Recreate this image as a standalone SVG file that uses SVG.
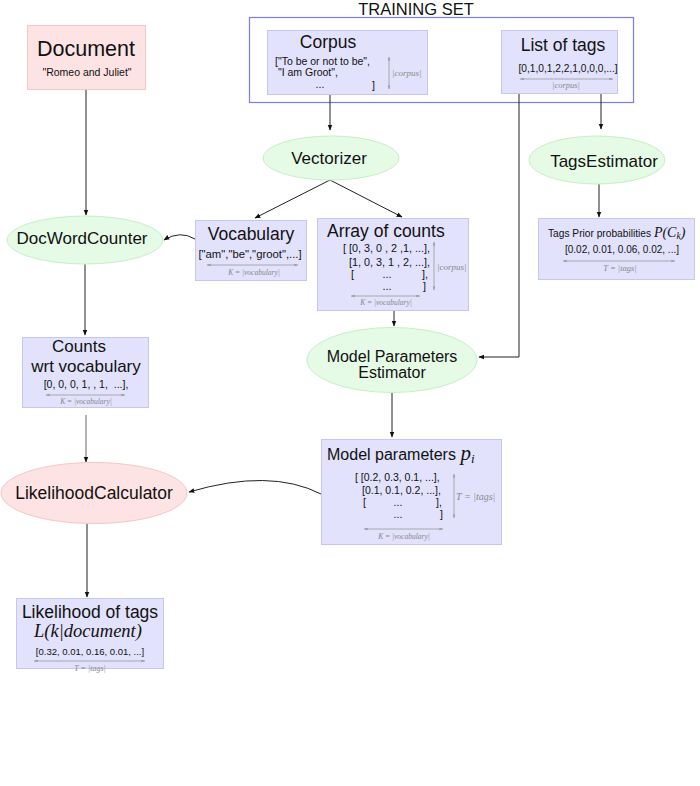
<svg xmlns="http://www.w3.org/2000/svg" width="700" height="786" viewBox="0 0 700 786">
<defs>
<marker id="ah" viewBox="0 0 10 10" refX="9" refY="5" markerWidth="6" markerHeight="6" orient="auto"><path d="M0,1 L10,5 L0,9 Z" fill="#111"/></marker>
<marker id="gh" viewBox="0 0 10 10" refX="9" refY="5" markerWidth="5" markerHeight="5" orient="auto"><path d="M0,2 L10,5 L0,8 Z" fill="#999"/></marker>
<marker id="gt" viewBox="0 0 10 10" refX="1" refY="5" markerWidth="5" markerHeight="5" orient="auto"><path d="M10,2 L0,5 L10,8 Z" fill="#999"/></marker>
</defs>
<style>
text{font-family:"Liberation Sans",Arial,sans-serif;fill:#111}
.box{fill:#e2e2fc;stroke:#c6c6f4;stroke-width:1}
.pink{fill:#fde3e3;stroke:#f7c6c6;stroke-width:1}
.green{fill:#e6fbe6;stroke:#c6efc6;stroke-width:1}
.h{font-size:17.5px}
.e{font-size:17px}
.s{font-size:10.5px}
.dim{stroke:#999;stroke-width:0.8;fill:none;marker-start:url(#gt);marker-end:url(#gh)}
.math{font-family:"Liberation Serif","DejaVu Serif",serif;font-style:italic;fill:#888}
.mathb{font-family:"Liberation Serif","DejaVu Serif",serif;font-style:italic;fill:#111}
.c{stroke:#222;stroke-width:1;fill:none;marker-end:url(#ah)}
</style>
<rect width="700" height="786" fill="#fff"/>

<g id="training-set">
<rect x="249.5" y="17.5" width="384" height="85" fill="none" stroke="#7b7bef" stroke-width="1.2"/>
<text x="416" y="15" text-anchor="middle" font-size="16.5">TRAINING SET</text>
</g>

<g id="connectors">
<path class="c" d="M86,89 V215"/>
<path class="c" d="M330,94 V130"/>
<path class="c" d="M601,93 V129"/>
<path class="c" d="M519,93 V357 H479"/>
<path class="c" d="M330,180 L255,218"/>
<path class="c" d="M330,180 L402,217"/>
<path class="c" d="M195,239 Q180,230 164,240"/>
<path class="c" d="M599,184 V217"/>
<path class="c" d="M85,264 V335"/>
<path class="c" d="M394,310 V326"/>
<path class="c" d="M392,393 V437"/>
<path d="M86,415 V462" stroke="#666" stroke-width="1" fill="none" marker-end="url(#ah)"/>
<path class="c" d="M321,494 Q270,468 189,492"/>
<path class="c" d="M87,523 V597"/>
</g>

<g id="document">
<rect class="pink" x="27.5" y="25.5" width="118" height="64"/>
<text x="86" y="56" text-anchor="middle" font-size="21.5">Document</text>
<text x="87" y="76" text-anchor="middle" font-size="10.5">"Romeo and Juliet"</text>
</g>

<g id="corpus">
<rect class="box" x="267.5" y="30.5" width="160" height="64"/>
<text x="328" y="48" text-anchor="middle" class="h">Corpus</text>
<text x="275" y="65" class="s" xml:space="preserve">["To be or not to be",</text>
<text x="275" y="76" class="s" xml:space="preserve"> "I am Groot",</text>
<text x="320" y="88" text-anchor="middle" class="s">...</text>
<text x="372" y="89" class="s">]</text>
<path class="dim" d="M389,57 V89"/>
<text x="392" y="76" class="math" font-size="9">|corpus|</text>
</g>

<g id="list-of-tags">
<rect class="box" x="501.5" y="30.5" width="116" height="63"/>
<text x="563" y="51" text-anchor="middle" class="h">List of tags</text>
<text x="568" y="72" text-anchor="middle" font-size="10.2">[0,1,0,1,2,2,1,0,0,0,...]</text>
<path class="dim" d="M520,79 H613"/>
<text x="566" y="88" text-anchor="middle" class="math" font-size="8.5">|corpus|</text>
</g>

<g id="vectorizer">
<ellipse class="green" cx="331" cy="158" rx="68" ry="22"/>
<text x="329" y="164" text-anchor="middle" class="e">Vectorizer</text>
</g>

<g id="tags-estimator">
<ellipse class="green" cx="597" cy="160" rx="68" ry="24"/>
<text x="604" y="167" text-anchor="middle" class="e">TagsEstimator</text>
</g>

<g id="vocabulary">
<rect class="box" x="195.5" y="220.5" width="111" height="60"/>
<text x="251" y="240" text-anchor="middle" class="h">Vocabulary</text>
<text x="250" y="258" text-anchor="middle" font-size="11.3">["am","be","groot",...]</text>
<path class="dim" d="M207,265 H298"/>
<text x="254" y="275" text-anchor="middle" class="math" font-size="7.5">K = |vocabulary|</text>
</g>

<g id="array-of-counts">
<rect class="box" x="317.5" y="218.5" width="151" height="92"/>
<text x="327" y="237" class="h">Array of counts</text>
<text x="343" y="252" font-size="10.8">[ [0, 3, 0 , 2 ,1, ...],</text>
<text x="349" y="266" font-size="10.8">[1, 0, 3, 1 , 2, ...],</text>
<text x="351" y="278" font-size="10.8">[</text>
<text x="387" y="278" text-anchor="middle" font-size="10.8">...</text>
<text x="422" y="278" font-size="10.8">],</text>
<text x="387" y="290" text-anchor="middle" font-size="10.8">...</text>
<text x="423" y="290" font-size="10.8">]</text>
<path class="dim" d="M434,242 V290"/>
<text x="437" y="270" class="math" font-size="9">|corpus|</text>
<path class="dim" d="M351,296 H420"/>
<text x="386" y="305" text-anchor="middle" class="math" font-size="7.5">K = |vocabulary|</text>
</g>

<g id="doc-word-counter">
<ellipse class="green" cx="85" cy="240" rx="78" ry="24"/>
<text x="82" y="244" text-anchor="middle" class="e">DocWordCounter</text>
</g>

<g id="tags-prior">
<rect class="box" x="538.5" y="218.5" width="156" height="61"/>
<text x="548" y="237" font-size="10.2">Tags Prior probabilities <tspan class="mathb" font-size="14">P</tspan><tspan class="mathb" font-size="14">(C</tspan><tspan class="mathb" font-size="9.5" dy="2">k</tspan><tspan class="mathb" font-size="14" dy="-2">)</tspan></text>
<text x="622" y="253" text-anchor="middle" font-size="10">[0.02, 0.01, 0.06, 0.02, ...]</text>
<path class="dim" d="M563,261 H675"/>
<text x="620" y="271" text-anchor="middle" class="math" font-size="8.5">T = |tags|</text>
</g>

<g id="counts">
<rect class="box" x="22.5" y="337.5" width="126" height="70"/>
<text x="79" y="352" text-anchor="middle" font-size="17">Counts</text>
<text x="86" y="372" text-anchor="middle" font-size="17">wrt vocabulary</text>
<text x="86" y="388" text-anchor="middle" font-size="10.5" xml:space="preserve">[0, 0, 0, 1, , 1,  ...],</text>
<path class="dim" d="M46,395 H125"/>
<text x="86" y="404" text-anchor="middle" class="math" font-size="7.5">K = |vocabulary|</text>
</g>

<g id="model-parameters-estimator">
<ellipse class="green" cx="392" cy="360" rx="85" ry="32.5"/>
<text x="392" y="362" text-anchor="middle" font-size="16">Model Parameters</text>
<text x="392" y="378" text-anchor="middle" font-size="16">Estimator</text>
</g>

<g id="likelihood-calculator">
<ellipse class="pink" cx="94" cy="493" rx="93" ry="30.5"/>
<text x="94" y="499" text-anchor="middle" font-size="17.5">LikelihoodCalculator</text>
</g>

<g id="model-parameters">
<rect class="box" x="321.5" y="439.5" width="180" height="105"/>
<text x="327" y="460" font-size="16">Model parameters <tspan class="mathb" font-size="21">p</tspan><tspan class="mathb" font-size="13" dy="3">i</tspan></text>
<text x="355" y="481" font-size="10.5">[ [0.2, 0.3, 0.1, ...],</text>
<text x="362" y="494" font-size="10.5">[0.1, 0.1, 0.2, ...],</text>
<text x="363" y="506" font-size="10.5">[</text>
<text x="398" y="506" text-anchor="middle" font-size="10.5">...</text>
<text x="436" y="506" font-size="10.5">],</text>
<text x="398" y="518" text-anchor="middle" font-size="10.5">...</text>
<text x="440" y="518" font-size="10.5">]</text>
<path class="dim" d="M454,474 V518"/>
<text x="456" y="500" class="math" font-size="10">T = |tags|</text>
<path class="dim" d="M364,529 H443"/>
<text x="404" y="539" text-anchor="middle" class="math" font-size="7.5">K = |vocabulary|</text>
</g>

<g id="likelihood-of-tags">
<rect class="box" x="16.5" y="598.5" width="147" height="70"/>
<text x="90" y="618" text-anchor="middle" class="h">Likelihood of tags</text>
<text x="88" y="637" text-anchor="middle" class="mathb" font-size="18.5">L(k|document)</text>
<text x="90" y="655" text-anchor="middle" font-size="9.5">[0.32, 0.01, 0.16, 0.01, ...]</text>
<path class="dim" d="M34,661 H145"/>
<text x="90" y="671" text-anchor="middle" class="math" font-size="8">T = |tags|</text>
</g>
</svg>
